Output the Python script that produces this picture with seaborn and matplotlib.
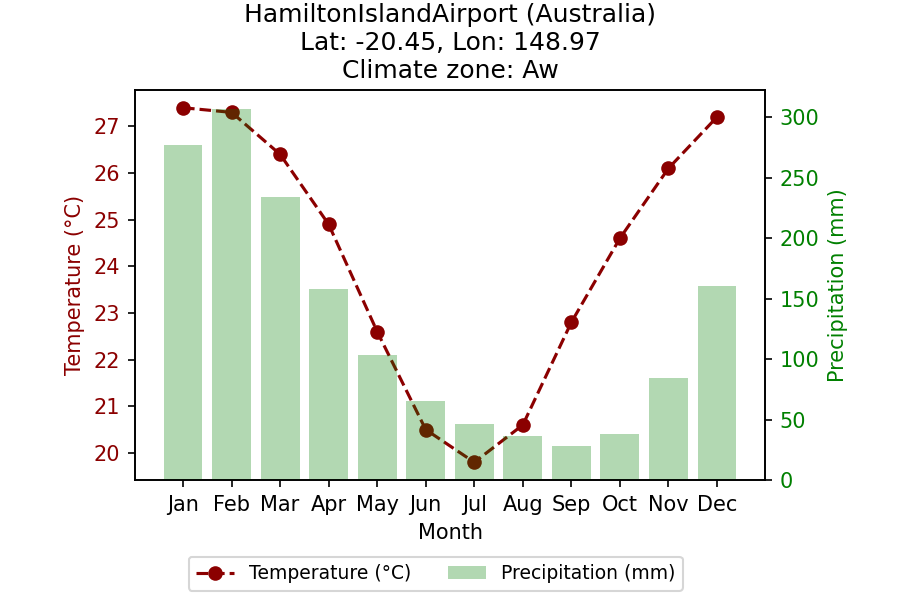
import matplotlib
matplotlib.use("Agg")
import matplotlib.pyplot as plt
import seaborn as sns
import pandas as pd

months = ["Jan", "Feb", "Mar", "Apr", "May", "Jun", "Jul", "Aug", "Sep", "Oct", "Nov", "Dec"]
temperature = [27.4, 27.3, 26.4, 24.9, 22.6, 20.5, 19.8, 20.6, 22.8, 24.6, 26.1, 27.2]
precipitation = [277, 307, 234, 158, 103, 65, 46, 36, 28, 38, 84, 160]

title = "HamiltonIslandAirport (Australia)\nLat: -20.45, Lon: 148.97\nClimate zone: Aw"

df = pd.DataFrame({"Month": months, "Temperature": temperature, "Precipitation": precipitation})
df["x"] = range(len(months))

plt.rcParams["font.family"] = ["DejaVu Sans"]

fig, ax1 = plt.subplots(figsize=(6, 4), dpi=150)
fig.subplots_adjust(left=0.15, right=0.85, bottom=0.2, top=0.85)

sns.lineplot(data=df, x="x", y="Temperature", ax=ax1, color="darkred", marker="o",
             linestyle="--", markeredgewidth=0, markersize=7, label="Temperature (°C)", legend=False)
ax1.set_ylabel("Temperature (°C)", color="darkred")
ax1.tick_params(axis="y", labelcolor="darkred")
ax1.set_xlabel("Month")

ax2 = ax1.twinx()
sns.barplot(data=df, x="x", y="Precipitation", ax=ax2, color="green", alpha=0.3,
            width=0.8, saturation=1, linewidth=0, label="Precipitation (mm)")
ax2.set_ylabel("Precipitation (mm)", color="green")
ax2.tick_params(axis="y", labelcolor="green")
ax2.set_ylim(0, 307 * 1.05)
ax1.set_xlim(-0.99, 11.99)
ax2.set_xlim(-0.99, 11.99)
ax1.set_xticks(range(12))
ax1.set_xticklabels(months)
ax2.set_xlabel("Month")

ax1.set_title(title, fontsize=12)

h1, l1 = ax1.get_legend_handles_labels()
h2, l2 = ax2.get_legend_handles_labels()
if ax2.get_legend() is not None:
    ax2.get_legend().remove()
fig.legend(h1 + h2, l1 + l2, loc="lower center", ncol=2, fontsize=9,
           bbox_to_anchor=(0.484, 0))

fig.savefig("out.png")
